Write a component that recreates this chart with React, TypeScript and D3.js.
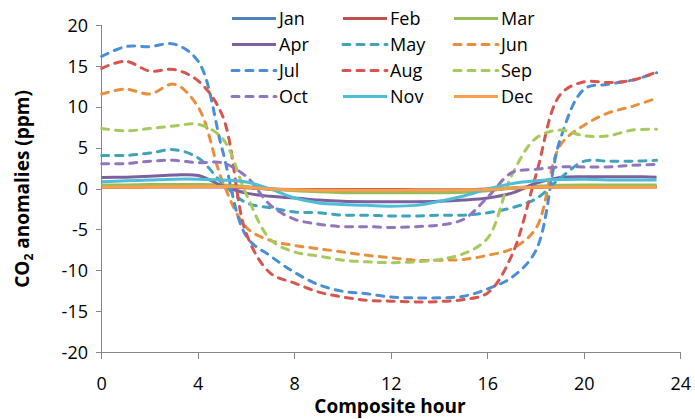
import React, { useRef, useEffect } from "react";
import * as d3 from "d3";

const hours = d3.range(0, 24);
const months = ["Jan", "Feb", "Mar", "Apr", "May", "Jun", "Jul", "Aug", "Sep", "Oct", "Nov", "Dec"];
const colors = ["#4F81BD", "#C0504D", "#9BBB59", "#7D60A0", "#3FA4BA", "#E88F3E", "#4A8FD6", "#D6564F", "#A6CA5B", "#9176BF", "#4DBED8", "#F8A04B"];
const dashed = [false, false, false, false, true, true, true, true, true, true, false, false];

const jan = [0.3, 0.3, 0.3, 0.35, 0.35, 0.3, 0.2, 0.0, -0.1, -0.15, -0.2, -0.2, -0.2, -0.2, -0.2, -0.15, -0.1, 0.1, 0.2, 0.3, 0.3, 0.3, 0.3, 0.3];
const feb = [0.2, 0.2, 0.25, 0.25, 0.25, 0.25, 0.15, 0.0, -0.05, -0.05, -0.05, -0.05, -0.05, -0.1, -0.1, -0.1, 0.0, 0.1, 0.2, 0.25, 0.25, 0.25, 0.25, 0.25];
const mar = [0.5, 0.5, 0.55, 0.55, 0.55, 0.5, 0.3, 0.0, -0.2, -0.35, -0.45, -0.45, -0.45, -0.45, -0.45, -0.4, -0.2, 0.1, 0.35, 0.45, 0.5, 0.5, 0.5, 0.5];
const apr = [1.4, 1.45, 1.55, 1.7, 1.65, 0.4, -0.5, -0.9, -1.1, -1.35, -1.5, -1.55, -1.55, -1.55, -1.5, -1.35, -1.1, -0.5, 0.7, 1.4, 1.5, 1.5, 1.5, 1.45];
const may = [4.1, 4.1, 4.4, 4.8, 3.8, 0.7, -1.7, -2.3, -2.8, -2.9, -3.2, -3.2, -3.3, -3.3, -3.2, -3.2, -2.9, -2.3, -1.2, 1.3, 3.4, 3.4, 3.4, 3.5];
const jun = [11.6, 12.2, 11.6, 12.8, 10.0, 1.0, -4.7, -6.3, -6.9, -7.3, -7.7, -8.1, -8.4, -8.7, -8.7, -8.6, -8.1, -7.3, -4.8, 5.3, 7.8, 9.3, 10.1, 11.1];
const jul = [16.2, 17.4, 17.4, 17.7, 15.6, 4.8, -5.8, -8.2, -10.2, -11.7, -12.5, -12.8, -13.2, -13.3, -13.3, -13.1, -12.2, -10.8, -7.5, 6.0, 12.2, 12.8, 13.3, 14.2];
const aug = [14.75, 15.6, 14.4, 14.6, 13.2, 9.0, -5.5, -10.3, -11.5, -12.6, -13.2, -13.6, -13.7, -13.8, -13.75, -13.5, -12.7, -8.1, 1.7, 11.5, 13.1, 13.0, 13.3, 14.3];
const sep = [7.4, 7.1, 7.4, 7.7, 7.9, 6.2, -0.7, -6.2, -7.7, -8.2, -8.7, -8.9, -9.0, -8.9, -8.6, -7.9, -6.0, 1.7, 6.2, 7.2, 6.5, 6.5, 7.2, 7.3];
const oct = [3.1, 3.1, 3.4, 3.5, 3.2, 3.2, 1.5, -2.0, -3.7, -4.3, -4.6, -4.6, -4.7, -4.6, -4.4, -3.7, -1.0, 2.0, 2.4, 2.7, 2.7, 2.7, 2.9, 3.0];
const nov = [0.9, 1.0, 1.1, 1.2, 1.2, 1.1, 0.85, 0.0, -1.1, -1.7, -1.9, -2.0, -2.1, -2.0, -1.5, -0.85, 0.0, 0.65, 1.0, 1.15, 1.2, 1.1, 1.1, 1.1];
const dec = [0.2, 0.22, 0.25, 0.27, 0.3, 0.3, 0.2, 0.0, -0.1, -0.15, -0.15, -0.15, -0.15, -0.15, -0.15, -0.1, -0.05, 0.1, 0.2, 0.2, 0.2, 0.2, 0.2, 0.2];

const series = [jan, feb, mar, apr, may, jun, jul, aug, sep, oct, nov, dec];
const xTicks = [0, 4, 8, 12, 16, 20, 24];
const yTicks = [-20, -15, -10, -5, 0, 5, 10, 15, 20];

const App = () => {
  const node: any = useRef();

  useEffect(() => {
    const width = 695,
      height = 419;
    const left = 101.7,
      right = 680.7,
      top = 25.3,
      bottom = 352.7;
    const font = "'Open Sans', sans-serif";
    const axisColor = "#868686";

    const svg = d3.select(node.current).attr("width", width).attr("height", height);
    svg.selectAll("*").remove();

    const x = d3.scaleLinear().domain([0, 24]).range([left, right]);
    const y = d3.scaleLinear().domain([-20, 20]).range([bottom, top]);

    // axes
    const axes = svg.append("g").attr("stroke", axisColor).attr("stroke-width", 1).attr("shape-rendering", "crispEdges");
    axes.append("line").attr("x1", left).attr("x2", left).attr("y1", top).attr("y2", bottom);
    axes.append("line").attr("x1", left).attr("x2", right).attr("y1", bottom).attr("y2", bottom);
    axes
      .selectAll(".yt")
      .data(yTicks)
      .enter()
      .append("line")
      .attr("x1", left - 6)
      .attr("x2", left)
      .attr("y1", d => y(d))
      .attr("y2", d => y(d));
    axes
      .selectAll(".xt")
      .data(xTicks)
      .enter()
      .append("line")
      .attr("x1", d => x(d))
      .attr("x2", d => x(d))
      .attr("y1", bottom)
      .attr("y2", bottom + 6);

    // tick labels
    svg
      .append("g")
      .selectAll("text")
      .data(yTicks)
      .enter()
      .append("text")
      .attr("x", 88)
      .attr("y", d => y(d))
      .attr("dy", "0.35em")
      .attr("text-anchor", "end")
      .attr("font-family", font)
      .attr("font-size", 18)
      .attr("fill", "#000")
      .text(d => d);
    svg
      .append("g")
      .selectAll("text")
      .data(xTicks)
      .enter()
      .append("text")
      .attr("x", d => x(d))
      .attr("y", 389.5)
      .attr("text-anchor", "middle")
      .attr("font-family", font)
      .attr("font-size", 18)
      .attr("fill", "#000")
      .text(d => d);

    // titles
    svg
      .append("text")
      .attr("x", 390)
      .attr("y", 413)
      .attr("text-anchor", "middle")
      .attr("font-family", font)
      .attr("font-size", 19)
      .attr("font-weight", "bold")
      .text("Composite hour");
    const yt = svg
      .append("text")
      .attr("transform", "translate(29,189) rotate(-90)")
      .attr("text-anchor", "middle")
      .attr("font-family", font)
      .attr("font-size", 19)
      .attr("font-weight", "bold");
    yt.append("tspan").text("CO");
    yt.append("tspan").attr("font-size", 12).attr("dy", 4).text("2");
    yt.append("tspan").attr("dy", -4).text(" anomalies (ppm)");

    // lines
    const line = d3
      .line<number>()
      .x((_, i) => x(hours[i]))
      .y(d => y(d))
      .curve(d3.curveCatmullRom.alpha(0.5));

    svg
      .append("g")
      .selectAll("path")
      .data(series)
      .enter()
      .append("path")
      .attr("d", d => line(d))
      .attr("fill", "none")
      .attr("stroke", (_, i) => colors[i])
      .attr("stroke-width", 3)
      .attr("stroke-linecap", (_, i) => (dashed[i] ? "round" : "butt"))
      .attr("stroke-dasharray", (_, i) => (dashed[i] ? "7,7" : null));

    // legend
    const colX = [232, 343, 454];
    const legend = svg
      .append("g")
      .selectAll("g")
      .data(months)
      .enter()
      .append("g")
      .attr("transform", (_, i) => `translate(${colX[i % 3]},${18.5 + Math.floor(i / 3) * 26})`);
    legend
      .append("line")
      .attr("x1", 0)
      .attr("x2", 44)
      .attr("stroke", (_, i) => colors[i])
      .attr("stroke-width", 3)
      .attr("stroke-linecap", (_, i) => (dashed[i] ? "round" : "butt"))
      .attr("stroke-dasharray", (_, i) => (dashed[i] ? "7,7" : null));
    legend
      .append("text")
      .attr("x", 47)
      .attr("dy", "0.35em")
      .attr("font-family", font)
      .attr("font-size", 18)
      .text(d => d);
  }, []);

  return (
    <div style={{ position: "absolute", left: 0, top: 0 }}>
      <svg ref={node}></svg>
    </div>
  );
};

export default App;
